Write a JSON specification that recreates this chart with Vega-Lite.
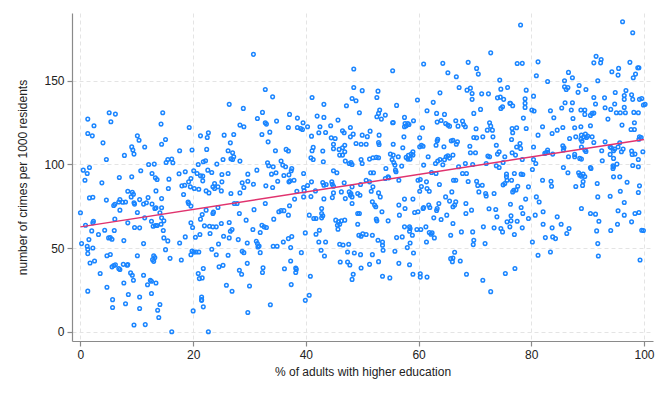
{
  "$schema": "https://vega.github.io/schema/vega-lite/v6.json",
  "width": 581,
  "height": 328,
  "autosize": {"type": "none"},
  "padding": {"left": 72, "top": 13, "right": 16, "bottom": 60},
  "background": "white",
  "config": {
    "view": {"stroke": null},
    "font": "Liberation Sans",
    "axis": {
      "grid": true,
      "gridDash": [4, 3],
      "gridColor": "#e4e4e4",
      "gridWidth": 1,
      "domainColor": "#8a8a8a",
      "domainWidth": 1.2,
      "tickColor": "#8a8a8a",
      "tickSize": 5,
      "tickWidth": 1.2,
      "labelFontSize": 12,
      "labelColor": "#222222",
      "labelPadding": 3,
      "titleFontSize": 12,
      "titleColor": "#222222",
      "titleFontWeight": "normal"
    }
  },
  "encoding": {
    "x": {
      "field": "edu",
      "type": "quantitative",
      "title": "% of adults with higher education",
      "scale": {"domain": [-1.5, 101.6], "nice": false, "zero": false},
      "axis": {"values": [0, 20, 40, 60, 80, 100], "titlePadding": 6}
    },
    "y": {
      "field": "crimes",
      "type": "quantitative",
      "title": "number of crimes per 1000 residents",
      "scale": {"domain": [-5.5, 190.5], "nice": false, "zero": false},
      "axis": {"values": [0, 50, 100, 150], "titlePadding": 14}
    }
  },
  "layer": [
    {
      "data": {"values": [
{"edu":1.3,"crimes":127.1},{"edu":5.1,"crimes":130.9},{"edu":6.2,"crimes":130.1},{"edu":5.4,"crimes":125.5},{"edu":14.6,"crimes":130.9},{"edu":14.3,"crimes":124.1},{"edu":2.4,"crimes":123.1},{"edu":1.3,"crimes":118.5},{"edu":2.1,"crimes":117.1},{"edu":10.1,"crimes":117.1},{"edu":10.4,"crimes":114.5},{"edu":19.3,"crimes":122.1},{"edu":22.7,"crimes":118.9},{"edu":22.5,"crimes":116.1},{"edu":21.3,"crimes":117.1},{"edu":4.0,"crimes":112.9},{"edu":11.4,"crimes":110.4},{"edu":15.1,"crimes":114.9},{"edu":14.4,"crimes":112.1},{"edu":9.1,"crimes":110.5},{"edu":9.3,"crimes":108.6},{"edu":9.5,"crimes":106.2},{"edu":7.8,"crimes":105.4},{"edu":4.6,"crimes":103.0},{"edu":17.6,"crimes":108.2},{"edu":19.8,"crimes":108.6},{"edu":22.4,"crimes":109.0},{"edu":13.1,"crimes":100.2},{"edu":12.1,"crimes":100.0},{"edu":15.2,"crimes":101.2},{"edu":15.5,"crimes":103.0},{"edu":16.2,"crimes":103.2},{"edu":16.4,"crimes":101.0},{"edu":1.6,"crimes":98.2},{"edu":21.8,"crimes":101.6},{"edu":22.2,"crimes":102.2},{"edu":20.9,"crimes":100.0},{"edu":24.2,"crimes":100.2},{"edu":0.5,"crimes":96.6},{"edu":1.2,"crimes":94.6},{"edu":0.8,"crimes":90.6},{"edu":3.8,"crimes":89.0},{"edu":6.9,"crimes":92.2},{"edu":9.1,"crimes":92.6},{"edu":10.7,"crimes":96.2},{"edu":12.7,"crimes":94.6},{"edu":13.3,"crimes":92.0},{"edu":13.6,"crimes":91.0},{"edu":15.7,"crimes":91.2},{"edu":17.5,"crimes":94.4},{"edu":18.6,"crimes":95.6},{"edu":19.6,"crimes":91.6},{"edu":20.1,"crimes":96.2},{"edu":20.7,"crimes":94.6},{"edu":21.3,"crimes":93.2},{"edu":21.7,"crimes":93.0},{"edu":22.6,"crimes":96.6},{"edu":23.3,"crimes":95.2},{"edu":23.8,"crimes":88.6},{"edu":24.4,"crimes":86.6},{"edu":8.4,"crimes":84.0},{"edu":9.2,"crimes":83.4},{"edu":9.4,"crimes":82.2},{"edu":9.0,"crimes":80.6},{"edu":10.5,"crimes":79.0},{"edu":12.0,"crimes":80.2},{"edu":13.4,"crimes":84.2},{"edu":14.4,"crimes":79.6},{"edu":15.6,"crimes":85.6},{"edu":18.3,"crimes":82.0},{"edu":18.0,"crimes":87.2},{"edu":18.5,"crimes":87.6},{"edu":19.2,"crimes":89.6},{"edu":19.5,"crimes":86.6},{"edu":20.2,"crimes":85.6},{"edu":21.0,"crimes":85.2},{"edu":21.7,"crimes":90.2},{"edu":22.3,"crimes":84.2},{"edu":22.8,"crimes":83.0},{"edu":23.5,"crimes":86.6},{"edu":23.8,"crimes":85.6},{"edu":1.6,"crimes":80.0},{"edu":2.2,"crimes":80.4},{"edu":4.6,"crimes":78.7},{"edu":7.0,"crimes":79.0},
{"edu":0.0,"crimes":71.1},{"edu":0.9,"crimes":63.7},{"edu":2.2,"crimes":65.1},{"edu":2.3,"crimes":66.1},{"edu":2.0,"crimes":60.3},{"edu":1.5,"crimes":55.1},{"edu":0.2,"crimes":52.7},{"edu":1.2,"crimes":51.1},{"edu":1.3,"crimes":49.3},{"edu":2.2,"crimes":50.1},{"edu":1.3,"crimes":46.7},{"edu":1.7,"crimes":41.1},{"edu":2.5,"crimes":42.3},{"edu":1.3,"crimes":24.3},{"edu":3.2,"crimes":58.1},{"edu":3.5,"crimes":34.8},{"edu":4.3,"crimes":60.7},{"edu":5.0,"crimes":56.1},{"edu":5.6,"crimes":55.3},{"edu":5.3,"crimes":56.3},{"edu":6.0,"crimes":60.5},{"edu":4.7,"crimes":45.4},{"edu":5.3,"crimes":46.2},{"edu":5.6,"crimes":38.8},{"edu":5.9,"crimes":39.6},{"edu":6.2,"crimes":40.0},{"edu":4.7,"crimes":26.6},{"edu":5.7,"crimes":19.2},{"edu":5.7,"crimes":14.5},{"edu":6.1,"crimes":67.3},{"edu":5.9,"crimes":75.5},{"edu":6.1,"crimes":76.2},{"edu":6.8,"crimes":77.6},{"edu":7.0,"crimes":72.7},{"edu":8.0,"crimes":77.6},{"edu":7.5,"crimes":77.4},{"edu":8.4,"crimes":65.1},{"edu":7.7,"crimes":54.5},{"edu":6.8,"crimes":37.8},{"edu":7.0,"crimes":37.2},{"edu":7.6,"crimes":40.3},{"edu":8.3,"crimes":39.8},{"edu":8.4,"crimes":40.2},{"edu":7.7,"crimes":29.2},{"edu":8.0,"crimes":16.8},{"edu":8.5,"crimes":22.3},{"edu":8.9,"crimes":35.2},{"edu":9.2,"crimes":33.8},{"edu":9.4,"crimes":30.8},{"edu":9.5,"crimes":77.1},{"edu":9.6,"crimes":76.3},{"edu":10.1,"crimes":71.3},{"edu":9.6,"crimes":62.3},{"edu":10.5,"crimes":62.1},{"edu":10.1,"crimes":45.4},{"edu":10.5,"crimes":20.8},{"edu":10.5,"crimes":13.9},{"edu":9.5,"crimes":4.1},{"edu":11.5,"crimes":4.3},{"edu":11.2,"crimes":33.8},{"edu":11.2,"crimes":76.3},{"edu":11.7,"crimes":77.1},{"edu":11.4,"crimes":68.1},{"edu":11.2,"crimes":52.7},{"edu":11.9,"crimes":28.1},{"edu":12.4,"crimes":30.8},{"edu":12.6,"crimes":30.2},{"edu":12.6,"crimes":22.9},{"edu":12.7,"crimes":76.3},{"edu":13.2,"crimes":73.7},{"edu":13.4,"crimes":74.1},{"edu":12.9,"crimes":63.1},{"edu":13.3,"crimes":63.5},{"edu":13.6,"crimes":63.5},{"edu":12.6,"crimes":66.1},{"edu":13.0,"crimes":45.4},{"edu":13.2,"crimes":44.4},{"edu":12.8,"crimes":43.1},{"edu":13.0,"crimes":42.1},{"edu":13.4,"crimes":29.2},{"edu":13.7,"crimes":12.9},{"edu":13.9,"crimes":8.5},{"edu":14.1,"crimes":16.3},{"edu":14.1,"crimes":71.1},{"edu":14.4,"crimes":74.1},{"edu":14.4,"crimes":68.1},{"edu":14.3,"crimes":64.3},{"edu":14.8,"crimes":66.3},{"edu":14.7,"crimes":60.5},{"edu":14.8,"crimes":56.1},{"edu":15.1,"crimes":49.1},{"edu":15.5,"crimes":54.3},{"edu":15.9,"crimes":43.9},{"edu":16.2,"crimes":0.0},{"edu":17.6,"crimes":53.1},{"edu":17.9,"crimes":42.9},{"edu":18.6,"crimes":56.7},{"edu":19.1,"crimes":77.6},{"edu":19.2,"crimes":76.7},{"edu":19.6,"crimes":75.1},{"edu":19.6,"crimes":65.1},{"edu":19.9,"crimes":62.3},{"edu":19.8,"crimes":48.3},{"edu":20.1,"crimes":47.7},{"edu":19.6,"crimes":46.0},{"edu":20.0,"crimes":12.5},{"edu":20.5,"crimes":47.7},{"edu":20.4,"crimes":56.5},{"edu":20.9,"crimes":34.8},{"edu":21.1,"crimes":31.8},{"edu":21.2,"crimes":58.1},{"edu":21.0,"crimes":47.7},{"edu":21.5,"crimes":20.8},{"edu":21.5,"crimes":19.2},{"edu":21.5,"crimes":18.8},{"edu":21.8,"crimes":14.9},{"edu":21.6,"crimes":32.2},{"edu":21.8,"crimes":37.8},{"edu":21.3,"crimes":67.3},{"edu":21.6,"crimes":70.1},{"edu":22.0,"crimes":63.3},{"edu":22.3,"crimes":72.7},{"edu":22.7,"crimes":0.0},{"edu":23.0,"crimes":58.7},{"edu":22.9,"crimes":63.1},{"edu":23.5,"crimes":62.7},{"edu":23.3,"crimes":49.3},{"edu":23.5,"crimes":70.7},{"edu":23.6,"crimes":71.5},{"edu":24.1,"crimes":46.0},{"edu":24.1,"crimes":62.7},{"edu":24.4,"crimes":74.3},{"edu":24.5,"crimes":52.5},{"edu":24.6,"crimes":38.8},
{"edu":30.7,"crimes":165.8},{"edu":48.5,"crimes":157.0},{"edu":32.8,"crimes":144.8},{"edu":34.1,"crimes":140.4},{"edu":41.1,"crimes":140.0},{"edu":48.5,"crimes":146.0},{"edu":50.0,"crimes":144.1},{"edu":48.2,"crimes":139.4},{"edu":48.9,"crimes":138.1},{"edu":49.5,"crimes":130.9},{"edu":26.4,"crimes":135.9},{"edu":28.9,"crimes":133.5},{"edu":32.3,"crimes":131.1},{"edu":31.4,"crimes":127.5},{"edu":34.8,"crimes":125.9},{"edu":37.1,"crimes":129.9},{"edu":38.5,"crimes":127.7},{"edu":39.5,"crimes":124.9},{"edu":42.0,"crimes":128.9},{"edu":43.2,"crimes":135.9},{"edu":43.2,"crimes":128.1},{"edu":45.7,"crimes":126.5},{"edu":47.2,"crimes":135.1},{"edu":32.8,"crimes":124.9},{"edu":33.0,"crimes":124.1},{"edu":28.3,"crimes":123.5},{"edu":29.0,"crimes":122.5},{"edu":36.9,"crimes":122.1},{"edu":38.5,"crimes":122.1},{"edu":39.1,"crimes":121.5},{"edu":39.4,"crimes":120.9},{"edu":40.3,"crimes":122.5},{"edu":42.5,"crimes":122.5},{"edu":44.4,"crimes":123.1},{"edu":46.5,"crimes":120.1},{"edu":46.8,"crimes":118.9},{"edu":47.9,"crimes":122.1},{"edu":25.5,"crimes":117.5},{"edu":27.2,"crimes":117.9},{"edu":32.2,"crimes":117.9},{"edu":33.6,"crimes":119.3},{"edu":41.0,"crimes":116.9},{"edu":42.3,"crimes":118.9},{"edu":43.5,"crimes":119.1},{"edu":44.5,"crimes":115.9},{"edu":45.2,"crimes":115.5},{"edu":48.4,"crimes":118.1},{"edu":47.9,"crimes":116.5},{"edu":48.9,"crimes":112.5},{"edu":50.0,"crimes":117.5},{"edu":26.6,"crimes":112.9},{"edu":26.2,"crimes":108.2},{"edu":27.0,"crimes":107.0},{"edu":27.2,"crimes":104.6},{"edu":26.7,"crimes":103.4},{"edu":27.0,"crimes":103.0},{"edu":33.3,"crimes":113.5},{"edu":34.6,"crimes":108.2},{"edu":36.5,"crimes":109.0},{"edu":36.9,"crimes":108.0},{"edu":41.3,"crimes":110.2},{"edu":41.1,"crimes":108.2},{"edu":43.0,"crimes":108.0},{"edu":44.9,"crimes":112.1},{"edu":44.9,"crimes":109.4},{"edu":45.9,"crimes":109.0},{"edu":46.5,"crimes":110.0},{"edu":46.0,"crimes":105.6},{"edu":46.5,"crimes":105.6},{"edu":46.9,"crimes":107.6},{"edu":46.9,"crimes":111.5},{"edu":49.8,"crimes":112.1},{"edu":25.3,"crimes":103.0},{"edu":28.3,"crimes":102.0},{"edu":33.2,"crimes":101.0},{"edu":33.4,"crimes":99.2},{"edu":34.2,"crimes":98.6},{"edu":35.6,"crimes":102.0},{"edu":35.9,"crimes":99.6},{"edu":36.4,"crimes":98.6},{"edu":37.5,"crimes":97.6},{"edu":37.4,"crimes":96.2},{"edu":40.9,"crimes":104.0},{"edu":41.3,"crimes":103.0},{"edu":43.1,"crimes":101.6},{"edu":47.0,"crimes":102.0},{"edu":47.7,"crimes":100.6},{"edu":48.0,"crimes":101.2},{"edu":48.2,"crimes":100.0},{"edu":49.8,"crimes":103.0},{"edu":50.0,"crimes":100.6},{"edu":25.1,"crimes":94.0},{"edu":26.2,"crimes":94.6},{"edu":29.7,"crimes":94.2},{"edu":31.3,"crimes":96.6},{"edu":33.9,"crimes":94.2},{"edu":34.7,"crimes":95.0},{"edu":36.1,"crimes":93.4},{"edu":37.0,"crimes":93.8},{"edu":37.9,"crimes":90.6},{"edu":37.0,"crimes":89.6},{"edu":39.6,"crimes":94.6},{"edu":44.9,"crimes":96.2},{"edu":45.5,"crimes":95.0},{"edu":46.8,"crimes":89.0},{"edu":25.1,"crimes":89.6},{"edu":28.7,"crimes":89.0},{"edu":29.7,"crimes":90.0},{"edu":30.7,"crimes":88.2},{"edu":32.9,"crimes":87.2},{"edu":34.1,"crimes":86.2},{"edu":35.0,"crimes":90.0},{"edu":37.2,"crimes":90.2},{"edu":41.0,"crimes":89.6},{"edu":39.6,"crimes":86.2},{"edu":40.3,"crimes":87.4},{"edu":43.0,"crimes":89.2},{"edu":43.2,"crimes":87.6},{"edu":43.6,"crimes":88.0},{"edu":44.6,"crimes":89.6},{"edu":44.7,"crimes":88.2},{"edu":44.9,"crimes":87.0},{"edu":48.2,"crimes":86.6},{"edu":49.7,"crimes":88.0},{"edu":25.0,"crimes":84.2},{"edu":26.7,"crimes":82.6},{"edu":28.3,"crimes":83.0},{"edu":29.0,"crimes":86.2},{"edu":38.4,"crimes":84.0},{"edu":39.7,"crimes":84.2},{"edu":41.7,"crimes":84.2},{"edu":44.9,"crimes":83.0},{"edu":46.3,"crimes":83.6},{"edu":47.7,"crimes":83.6},{"edu":48.0,"crimes":82.6},{"edu":49.2,"crimes":82.6},{"edu":49.6,"crimes":81.6},{"edu":38.0,"crimes":79.3},{"edu":39.6,"crimes":80.6},{"edu":40.9,"crimes":80.8},{"edu":43.2,"crimes":79.4},{"edu":44.7,"crimes":80.2},{"edu":47.0,"crimes":79.6},{"edu":47.9,"crimes":81.6},{"edu":48.2,"crimes":80.6},
{"edu":27.3,"crimes":76.7},{"edu":27.8,"crimes":76.7},{"edu":30.8,"crimes":73.0},{"edu":32.8,"crimes":76.7},{"edu":48.2,"crimes":76.7},{"edu":35.2,"crimes":71.7},{"edu":35.6,"crimes":72.4},{"edu":36.1,"crimes":72.4},{"edu":37.1,"crimes":75.3},{"edu":28.2,"crimes":70.7},{"edu":29.4,"crimes":66.7},{"edu":34.3,"crimes":67.3},{"edu":36.9,"crimes":69.7},{"edu":40.6,"crimes":69.7},{"edu":41.4,"crimes":67.7},{"edu":41.8,"crimes":67.7},{"edu":42.8,"crimes":73.7},{"edu":42.8,"crimes":70.7},{"edu":43.0,"crimes":69.3},{"edu":42.8,"crimes":68.1},{"edu":45.3,"crimes":66.7},{"edu":45.8,"crimes":65.7},{"edu":46.3,"crimes":66.3},{"edu":46.9,"crimes":66.7},{"edu":45.6,"crimes":63.7},{"edu":46.0,"crimes":64.3},{"edu":45.7,"crimes":61.3},{"edu":49.2,"crimes":70.7},{"edu":49.5,"crimes":70.7},{"edu":49.2,"crimes":64.3},{"edu":25.0,"crimes":64.7},{"edu":26.4,"crimes":65.3},{"edu":26.6,"crimes":60.1},{"edu":26.9,"crimes":61.1},{"edu":25.4,"crimes":57.1},{"edu":26.4,"crimes":56.1},{"edu":28.0,"crimes":55.1},{"edu":30.6,"crimes":61.1},{"edu":32.2,"crimes":63.7},{"edu":32.6,"crimes":62.7},{"edu":33.0,"crimes":62.3},{"edu":31.9,"crimes":59.3},{"edu":31.2,"crimes":54.1},{"edu":31.4,"crimes":52.7},{"edu":31.7,"crimes":51.3},{"edu":31.5,"crimes":50.7},{"edu":29.6,"crimes":53.1},{"edu":34.2,"crimes":51.1},{"edu":34.9,"crimes":51.1},{"edu":36.0,"crimes":53.7},{"edu":36.9,"crimes":55.7},{"edu":37.5,"crimes":56.9},{"edu":37.3,"crimes":50.3},{"edu":39.9,"crimes":59.1},{"edu":41.8,"crimes":58.3},{"edu":42.4,"crimes":60.7},{"edu":42.3,"crimes":53.7},{"edu":43.5,"crimes":53.7},{"edu":46.0,"crimes":52.3},{"edu":46.6,"crimes":51.9},{"edu":47.6,"crimes":52.3},{"edu":47.4,"crimes":47.7},{"edu":48.6,"crimes":47.1},{"edu":49.7,"crimes":46.1},{"edu":49.4,"crimes":57.7},{"edu":49.8,"crimes":57.1},{"edu":50.1,"crimes":58.5},{"edu":42.7,"crimes":48.7},{"edu":43.3,"crimes":45.3},{"edu":47.4,"crimes":41.7},{"edu":47.8,"crimes":39.9},{"edu":46.1,"crimes":41.7},{"edu":49.8,"crimes":38.1},{"edu":48.4,"crimes":34.4},{"edu":48.2,"crimes":31.3},{"edu":39.2,"crimes":47.3},{"edu":40.8,"crimes":33.2},{"edu":40.6,"crimes":21.8},{"edu":39.9,"crimes":18.8},{"edu":37.4,"crimes":28.2},{"edu":38.2,"crimes":38.1},{"edu":38.3,"crimes":37.3},{"edu":38.2,"crimes":35.4},{"edu":37.3,"crimes":42.3},{"edu":36.2,"crimes":37.7},{"edu":32.4,"crimes":38.3},{"edu":32.3,"crimes":35.4},{"edu":29.6,"crimes":40.9},{"edu":28.7,"crimes":48.1},{"edu":29.0,"crimes":47.3},{"edu":31.9,"crimes":47.3},{"edu":26.2,"crimes":45.7},{"edu":25.3,"crimes":39.7},{"edu":28.2,"crimes":36.8},{"edu":28.6,"crimes":34.4},{"edu":30.0,"crimes":27.4},{"edu":25.9,"crimes":27.8},{"edu":26.9,"crimes":24.2},{"edu":33.7,"crimes":16.2},{"edu":29.7,"crimes":11.5},
{"edu":72.8,"crimes":166.7},{"edu":55.4,"crimes":156.0},{"edu":60.9,"crimes":160.0},{"edu":64.3,"crimes":160.4},{"edu":68.8,"crimes":161.0},{"edu":65.2,"crimes":154.8},{"edu":66.7,"crimes":152.4},{"edu":70.3,"crimes":157.4},{"edu":70.6,"crimes":154.0},{"edu":74.4,"crimes":150.4},{"edu":52.8,"crimes":143.8},{"edu":52.6,"crimes":140.0},{"edu":59.8,"crimes":138.5},{"edu":63.8,"crimes":142.8},{"edu":62.6,"crimes":137.1},{"edu":67.2,"crimes":146.0},{"edu":68.6,"crimes":144.4},{"edu":69.2,"crimes":145.6},{"edu":69.5,"crimes":142.4},{"edu":69.5,"crimes":138.9},{"edu":71.2,"crimes":142.2},{"edu":72.4,"crimes":142.2},{"edu":74.6,"crimes":145.0},{"edu":75.8,"crimes":146.0},{"edu":74.0,"crimes":139.8},{"edu":74.5,"crimes":140.2},{"edu":75.1,"crimes":138.9},{"edu":74.9,"crimes":134.5},{"edu":74.6,"crimes":133.5},{"edu":76.2,"crimes":136.5},{"edu":53.1,"crimes":132.5},{"edu":52.9,"crimes":130.5},{"edu":52.6,"crimes":128.5},{"edu":53.4,"crimes":127.1},{"edu":54.1,"crimes":129.5},{"edu":56.1,"crimes":135.3},{"edu":55.5,"crimes":125.1},{"edu":57.5,"crimes":128.1},{"edu":57.6,"crimes":124.5},{"edu":58.1,"crimes":124.5},{"edu":58.3,"crimes":123.9},{"edu":57.8,"crimes":123.1},{"edu":57.5,"crimes":122.5},{"edu":59.1,"crimes":126.1},{"edu":61.5,"crimes":132.1},{"edu":63.2,"crimes":130.5},{"edu":64.6,"crimes":129.9},{"edu":63.3,"crimes":125.3},{"edu":64.0,"crimes":126.3},{"edu":64.8,"crimes":124.5},{"edu":65.2,"crimes":123.5},{"edu":65.5,"crimes":122.9},{"edu":66.6,"crimes":126.1},{"edu":67.8,"crimes":125.9},{"edu":68.0,"crimes":123.9},{"edu":68.3,"crimes":122.5},{"edu":67.0,"crimes":122.9},{"edu":69.8,"crimes":130.5},{"edu":71.0,"crimes":132.9},{"edu":70.2,"crimes":121.3},{"edu":72.6,"crimes":124.9},{"edu":72.8,"crimes":122.9},{"edu":73.1,"crimes":120.5},{"edu":60.7,"crimes":121.9},{"edu":55.4,"crimes":124.9},{"edu":50.9,"crimes":116.6},{"edu":53.0,"crimes":117.5},{"edu":52.9,"crimes":113.1},{"edu":53.0,"crimes":111.9},{"edu":51.4,"crimes":119.9},{"edu":55.5,"crimes":112.1},{"edu":57.4,"crimes":116.5},{"edu":60.2,"crimes":115.9},{"edu":60.5,"crimes":111.5},{"edu":60.8,"crimes":110.9},{"edu":60.2,"crimes":110.6},{"edu":63.4,"crimes":115.1},{"edu":63.3,"crimes":114.1},{"edu":64.5,"crimes":110.6},{"edu":63.1,"crimes":111.5},{"edu":65.8,"crimes":114.1},{"edu":66.1,"crimes":114.5},{"edu":66.7,"crimes":112.1},{"edu":66.9,"crimes":113.5},{"edu":69.1,"crimes":110.9},{"edu":69.8,"crimes":116.1},{"edu":70.3,"crimes":115.9},{"edu":71.4,"crimes":116.5},{"edu":72.2,"crimes":120.5},{"edu":73.2,"crimes":116.5},{"edu":73.8,"crimes":111.5},{"edu":57.2,"crimes":110.0},{"edu":50.7,"crimes":112.1},{"edu":51.3,"crimes":103.2},{"edu":51.9,"crimes":104.0},{"edu":52.5,"crimes":104.2},{"edu":52.9,"crimes":104.0},{"edu":52.0,"crimes":95.0},{"edu":54.2,"crimes":97.6},{"edu":55.0,"crimes":106.2},{"edu":55.5,"crimes":105.6},{"edu":55.3,"crimes":103.0},{"edu":55.6,"crimes":101.2},{"edu":55.8,"crimes":99.6},{"edu":56.4,"crimes":104.6},{"edu":57.0,"crimes":99.0},{"edu":57.8,"crimes":104.2},{"edu":58.2,"crimes":105.4},{"edu":58.7,"crimes":106.2},{"edu":59.0,"crimes":107.6},{"edu":59.0,"crimes":105.6},{"edu":58.1,"crimes":103.2},{"edu":58.5,"crimes":103.2},{"edu":60.9,"crimes":99.6},{"edu":61.7,"crimes":104.6},{"edu":62.3,"crimes":95.2},{"edu":63.0,"crimes":100.6},{"edu":63.4,"crimes":102.0},{"edu":63.8,"crimes":103.0},{"edu":64.9,"crimes":104.6},{"edu":65.2,"crimes":105.2},{"edu":66.1,"crimes":105.6},{"edu":64.6,"crimes":102.8},{"edu":65.5,"crimes":103.8},{"edu":64.3,"crimes":99.8},{"edu":67.1,"crimes":98.6},{"edu":68.3,"crimes":100.6},{"edu":69.6,"crimes":100.0},{"edu":69.2,"crimes":107.0},{"edu":70.1,"crimes":107.0},{"edu":72.0,"crimes":100.6},{"edu":72.3,"crimes":105.0},{"edu":72.6,"crimes":104.6},{"edu":74.0,"crimes":106.2},{"edu":74.3,"crimes":107.6},{"edu":75.0,"crimes":101.2},{"edu":75.3,"crimes":104.6},{"edu":50.7,"crimes":90.6},{"edu":51.5,"crimes":95.0},{"edu":51.3,"crimes":89.6},{"edu":51.9,"crimes":86.6},{"edu":51.6,"crimes":84.0},{"edu":52.9,"crimes":83.0},{"edu":53.2,"crimes":80.6},{"edu":54.1,"crimes":91.6},{"edu":54.6,"crimes":92.6},{"edu":54.7,"crimes":92.0},{"edu":55.9,"crimes":96.6},{"edu":56.0,"crimes":95.6},{"edu":56.5,"crimes":90.6},{"edu":57.5,"crimes":79.3},{"edu":59.0,"crimes":79.3},{"edu":59.9,"crimes":90.6},{"edu":60.3,"crimes":91.0},{"edu":60.5,"crimes":86.8},{"edu":61.4,"crimes":89.6},{"edu":61.5,"crimes":85.6},{"edu":60.2,"crimes":84.0},{"edu":61.9,"crimes":84.0},{"edu":63.7,"crimes":88.0},{"edu":64.8,"crimes":80.6},{"edu":65.9,"crimes":83.6},{"edu":66.2,"crimes":90.6},{"edu":66.6,"crimes":90.6},{"edu":67.8,"crimes":94.6},{"edu":68.5,"crimes":94.6},{"edu":68.8,"crimes":89.8},{"edu":70.3,"crimes":90.0},{"edu":70.5,"crimes":87.4},{"edu":70.7,"crimes":83.6},{"edu":71.3,"crimes":87.6},{"edu":71.9,"crimes":82.6},{"edu":72.0,"crimes":81.2},{"edu":73.4,"crimes":82.6},{"edu":73.8,"crimes":99.2},{"edu":74.3,"crimes":98.2},{"edu":75.0,"crimes":87.8},{"edu":75.3,"crimes":88.6},{"edu":75.6,"crimes":94.2},{"edu":75.6,"crimes":92.6},{"edu":75.7,"crimes":90.6},{"edu":63.1,"crimes":94.6},
{"edu":51.8,"crimes":77.7},{"edu":52.2,"crimes":75.7},{"edu":52.4,"crimes":74.7},{"edu":56.5,"crimes":75.7},{"edu":57.6,"crimes":73.7},{"edu":53.5,"crimes":71.7},{"edu":52.5,"crimes":67.3},{"edu":52.6,"crimes":66.3},{"edu":54.6,"crimes":66.3},{"edu":56.6,"crimes":69.7},{"edu":59.3,"crimes":71.3},{"edu":59.9,"crimes":71.7},{"edu":60.8,"crimes":73.7},{"edu":60.9,"crimes":74.3},{"edu":61.8,"crimes":75.7},{"edu":62.0,"crimes":74.3},{"edu":63.3,"crimes":73.7},{"edu":63.2,"crimes":72.5},{"edu":63.6,"crimes":76.7},{"edu":62.7,"crimes":68.1},{"edu":64.0,"crimes":67.1},{"edu":65.0,"crimes":69.7},{"edu":65.5,"crimes":78.1},{"edu":66.1,"crimes":74.7},{"edu":66.4,"crimes":75.7},{"edu":66.6,"crimes":77.7},{"edu":68.4,"crimes":76.7},{"edu":68.4,"crimes":70.7},{"edu":69.4,"crimes":72.7},{"edu":72.5,"crimes":73.5},{"edu":73.7,"crimes":73.1},{"edu":73.9,"crimes":68.7},{"edu":75.7,"crimes":65.7},{"edu":57.5,"crimes":62.7},{"edu":58.4,"crimes":62.7},{"edu":58.5,"crimes":61.7},{"edu":58.4,"crimes":60.1},{"edu":59.7,"crimes":61.1},{"edu":60.4,"crimes":61.1},{"edu":61.3,"crimes":62.7},{"edu":61.9,"crimes":59.3},{"edu":62.4,"crimes":59.1},{"edu":62.2,"crimes":58.3},{"edu":62.8,"crimes":56.1},{"edu":66.1,"crimes":64.7},{"edu":65.7,"crimes":57.7},{"edu":67.6,"crimes":59.7},{"edu":69.6,"crimes":59.7},{"edu":71.5,"crimes":62.7},{"edu":73.4,"crimes":62.1},{"edu":74.6,"crimes":61.7},{"edu":74.9,"crimes":59.7},{"edu":69.8,"crimes":54.7},{"edu":69.7,"crimes":52.1},{"edu":71.8,"crimes":52.7},{"edu":50.7,"crimes":58.1},{"edu":51.8,"crimes":57.7},{"edu":52.8,"crimes":54.7},{"edu":53.6,"crimes":53.7},{"edu":53.6,"crimes":51.7},{"edu":53.7,"crimes":48.7},{"edu":55.8,"crimes":48.1},{"edu":56.1,"crimes":56.3},{"edu":57.1,"crimes":56.7},{"edu":58.0,"crimes":50.3},{"edu":58.5,"crimes":53.1},{"edu":58.9,"crimes":57.7},{"edu":59.1,"crimes":47.1},{"edu":61.4,"crimes":53.7},{"edu":51.8,"crimes":46.1},{"edu":51.3,"crimes":40.3},{"edu":52.9,"crimes":41.9},{"edu":56.5,"crimes":40.9},{"edu":58.4,"crimes":40.1},{"edu":59.0,"crimes":34.4},{"edu":60.3,"crimes":34.7},{"edu":60.3,"crimes":32.7},{"edu":61.5,"crimes":32.7},{"edu":53.6,"crimes":33.2},{"edu":54.9,"crimes":32.2},{"edu":65.7,"crimes":43.7},{"edu":66.1,"crimes":44.1},{"edu":66.4,"crimes":47.5},{"edu":66.0,"crimes":41.9},{"edu":67.4,"crimes":42.3},{"edu":68.5,"crimes":34.4},{"edu":71.4,"crimes":30.8},{"edu":72.8,"crimes":24.0},{"edu":75.4,"crimes":34.8},
{"edu":78.1,"crimes":183.3},{"edu":96.2,"crimes":185.3},{"edu":98.0,"crimes":178.7},{"edu":77.5,"crimes":160.3},{"edu":78.4,"crimes":160.4},{"edu":81.2,"crimes":161.3},{"edu":91.5,"crimes":164.6},{"edu":91.1,"crimes":160.7},{"edu":92.4,"crimes":162.7},{"edu":92.3,"crimes":160.7},{"edu":97.5,"crimes":161.0},{"edu":94.3,"crimes":155.4},{"edu":95.5,"crimes":157.4},{"edu":95.4,"crimes":153.4},{"edu":98.9,"crimes":157.8},{"edu":99.1,"crimes":157.8},{"edu":98.1,"crimes":151.8},{"edu":98.5,"crimes":154.0},{"edu":86.6,"crimes":155.0},{"edu":85.9,"crimes":150.0},{"edu":87.3,"crimes":151.8},{"edu":82.9,"crimes":149.6},{"edu":80.9,"crimes":153.0},{"edu":79.1,"crimes":144.4},{"edu":78.9,"crimes":139.2},{"edu":78.9,"crimes":136.5},{"edu":78.9,"crimes":134.1},{"edu":80.4,"crimes":140.8},{"edu":76.3,"crimes":136.5},{"edu":76.7,"crimes":135.1},{"edu":85.9,"crimes":146.4},{"edu":86.2,"crimes":144.8},{"edu":86.5,"crimes":146.0},{"edu":88.5,"crimes":147.2},{"edu":88.3,"crimes":143.1},{"edu":89.7,"crimes":144.8},{"edu":91.1,"crimes":140.0},{"edu":91.8,"crimes":150.0},{"edu":93.0,"crimes":139.8},{"edu":94.9,"crimes":143.0},{"edu":96.8,"crimes":144.2},{"edu":96.5,"crimes":141.2},{"edu":96.5,"crimes":138.9},{"edu":96.5,"crimes":134.1},{"edu":97.8,"crimes":141.6},{"edu":98.0,"crimes":138.9},{"edu":99.2,"crimes":138.9},{"edu":99.6,"crimes":139.4},{"edu":99.9,"crimes":135.5},{"edu":100.2,"crimes":135.9},{"edu":91.4,"crimes":136.1},{"edu":80.1,"crimes":132.5},{"edu":80.5,"crimes":131.9},{"edu":83.4,"crimes":132.1},{"edu":85.4,"crimes":133.7},{"edu":86.0,"crimes":136.9},{"edu":87.3,"crimes":136.9},{"edu":87.1,"crimes":132.5},{"edu":88.8,"crimes":132.5},{"edu":89.5,"crimes":132.5},{"edu":87.4,"crimes":127.5},{"edu":84.0,"crimes":127.9},{"edu":89.5,"crimes":129.9},{"edu":90.5,"crimes":129.3},{"edu":90.8,"crimes":130.5},{"edu":91.1,"crimes":130.7},{"edu":93.1,"crimes":133.9},{"edu":94.1,"crimes":132.9},{"edu":94.8,"crimes":136.1},{"edu":95.1,"crimes":130.9},{"edu":95.8,"crimes":130.9},{"edu":96.7,"crimes":130.9},{"edu":98.2,"crimes":131.1},{"edu":99.0,"crimes":130.9},{"edu":93.6,"crimes":127.1},{"edu":78.6,"crimes":127.7},{"edu":76.6,"crimes":121.5},{"edu":77.4,"crimes":121.9},{"edu":79.1,"crimes":121.5},{"edu":82.0,"crimes":122.5},{"edu":85.6,"crimes":122.1},{"edu":84.6,"crimes":120.5},{"edu":87.7,"crimes":121.9},{"edu":88.8,"crimes":122.5},{"edu":90.5,"crimes":123.1},{"edu":98.3,"crimes":124.9},{"edu":98.3,"crimes":120.9},{"edu":97.7,"crimes":120.9},{"edu":96.1,"crimes":123.5},{"edu":76.7,"crimes":118.9},{"edu":81.2,"crimes":117.5},{"edu":83.7,"crimes":118.5},{"edu":86.8,"crimes":115.5},{"edu":87.9,"crimes":116.5},{"edu":88.9,"crimes":117.5},{"edu":89.3,"crimes":116.5},{"edu":89.6,"crimes":118.1},{"edu":89.8,"crimes":116.1},{"edu":90.0,"crimes":116.9},{"edu":90.8,"crimes":116.5},{"edu":88.8,"crimes":115.1},{"edu":89.0,"crimes":113.9},{"edu":93.1,"crimes":113.5},{"edu":99.2,"crimes":116.5},{"edu":99.1,"crimes":115.1},{"edu":99.5,"crimes":116.1},{"edu":76.5,"crimes":114.9},{"edu":77.4,"crimes":110.4},{"edu":78.0,"crimes":112.5},{"edu":78.1,"crimes":109.6},{"edu":80.4,"crimes":110.4},{"edu":82.9,"crimes":108.6},{"edu":82.6,"crimes":107.0},{"edu":82.4,"crimes":106.6},{"edu":83.8,"crimes":106.2},{"edu":85.6,"crimes":111.1},{"edu":85.8,"crimes":110.0},{"edu":85.7,"crimes":108.6},{"edu":87.7,"crimes":104.6},{"edu":87.7,"crimes":106.0},{"edu":88.9,"crimes":110.4},{"edu":88.9,"crimes":103.2},{"edu":89.5,"crimes":108.6},{"edu":91.1,"crimes":113.1},{"edu":92.5,"crimes":108.2},{"edu":94.0,"crimes":110.4},{"edu":94.2,"crimes":110.0},{"edu":94.8,"crimes":109.2},{"edu":94.6,"crimes":108.2},{"edu":95.4,"crimes":110.4},{"edu":95.7,"crimes":113.0},{"edu":96.3,"crimes":109.2},{"edu":96.0,"crimes":107.6},{"edu":97.9,"crimes":106.0},{"edu":98.4,"crimes":106.2},{"edu":97.8,"crimes":108.0},{"edu":99.8,"crimes":107.6},{"edu":94.0,"crimes":106.0},{"edu":94.6,"crimes":103.6},{"edu":92.6,"crimes":102.2},{"edu":76.6,"crimes":107.0},{"edu":77.2,"crimes":105.6},{"edu":78.4,"crimes":103.0},{"edu":80.4,"crimes":103.0},{"edu":80.8,"crimes":100.6},{"edu":82.9,"crimes":107.2},{"edu":86.6,"crimes":104.6},{"edu":88.6,"crimes":103.6},{"edu":89.7,"crimes":107.8},{"edu":99.0,"crimes":103.0},{"edu":77.0,"crimes":94.6},{"edu":78.2,"crimes":94.2},{"edu":78.5,"crimes":94.0},{"edu":80.2,"crimes":97.0},{"edu":82.0,"crimes":90.6},{"edu":83.5,"crimes":90.0},{"edu":83.6,"crimes":87.0},{"edu":85.7,"crimes":98.2},{"edu":86.5,"crimes":95.0},{"edu":88.4,"crimes":95.0},{"edu":88.6,"crimes":93.6},{"edu":88.9,"crimes":93.0},{"edu":89.2,"crimes":94.2},{"edu":89.5,"crimes":92.8},{"edu":89.2,"crimes":89.8},{"edu":89.1,"crimes":87.4},{"edu":87.9,"crimes":86.8},{"edu":90.5,"crimes":98.2},{"edu":90.6,"crimes":97.6},{"edu":91.7,"crimes":88.6},{"edu":94.5,"crimes":99.2},{"edu":94.5,"crimes":97.6},{"edu":94.6,"crimes":98.6},{"edu":95.2,"crimes":100.2},{"edu":94.6,"crimes":92.6},{"edu":95.7,"crimes":92.6},{"edu":97.0,"crimes":89.4},{"edu":98.0,"crimes":99.4},{"edu":99.0,"crimes":98.6},{"edu":99.2,"crimes":87.2},{"edu":99.0,"crimes":83.2},{"edu":95.8,"crimes":84.0},{"edu":91.8,"crimes":80.6},{"edu":94.0,"crimes":81.0},{"edu":76.5,"crimes":90.6},{"edu":76.9,"crimes":84.6},{"edu":76.7,"crimes":83.6},{"edu":77.3,"crimes":84.8},{"edu":77.6,"crimes":87.0},{"edu":79.0,"crimes":79.3},{"edu":80.9,"crimes":80.6},{"edu":79.5,"crimes":86.6},
{"edu":81.4,"crimes":77.6},{"edu":76.3,"crimes":76.2},{"edu":78.2,"crimes":74.3},{"edu":76.4,"crimes":69.3},{"edu":76.4,"crimes":66.3},{"edu":77.5,"crimes":66.1},{"edu":76.2,"crimes":62.7},{"edu":78.5,"crimes":70.7},{"edu":78.4,"crimes":62.1},{"edu":79.5,"crimes":67.7},{"edu":77.0,"crimes":58.1},{"edu":82.1,"crimes":71.7},{"edu":80.7,"crimes":69.7},{"edu":82.1,"crimes":64.3},{"edu":84.6,"crimes":68.7},{"edu":83.7,"crimes":62.1},{"edu":85.3,"crimes":64.3},{"edu":86.7,"crimes":61.7},{"edu":86.3,"crimes":58.7},{"edu":82.5,"crimes":56.3},{"edu":83.8,"crimes":56.7},{"edu":84.3,"crimes":55.7},{"edu":80.2,"crimes":53.7},{"edu":81.2,"crimes":45.7},{"edu":83.4,"crimes":47.7},{"edu":88.9,"crimes":73.7},{"edu":90.5,"crimes":70.7},{"edu":91.4,"crimes":70.3},{"edu":92.0,"crimes":66.1},{"edu":91.6,"crimes":60.3},{"edu":91.8,"crimes":52.7},{"edu":91.9,"crimes":45.3},{"edu":96.5,"crimes":77.3},{"edu":95.4,"crimes":72.3},{"edu":96.5,"crimes":69.7},{"edu":95.3,"crimes":64.3},{"edu":94.1,"crimes":60.5},{"edu":97.8,"crimes":65.7},{"edu":98.4,"crimes":70.7},{"edu":99.1,"crimes":71.3},{"edu":99.6,"crimes":60.7},{"edu":99.9,"crimes":60.5},{"edu":99.3,"crimes":42.9},{"edu":77.1,"crimes":37.8}
      ]},
      "mark": {"type": "point", "shape": "circle", "filled": false, "stroke": "#1a85ff", "strokeWidth": 1.5, "size": 13, "opacity": 1}
    },
    {
      "data": {"values": [{"edu": 0, "crimes": 62.7}, {"edu": 100, "crimes": 114.9}]},
      "mark": {"type": "line", "color": "#e0336e", "strokeWidth": 1.5}
    }
  ]
}
